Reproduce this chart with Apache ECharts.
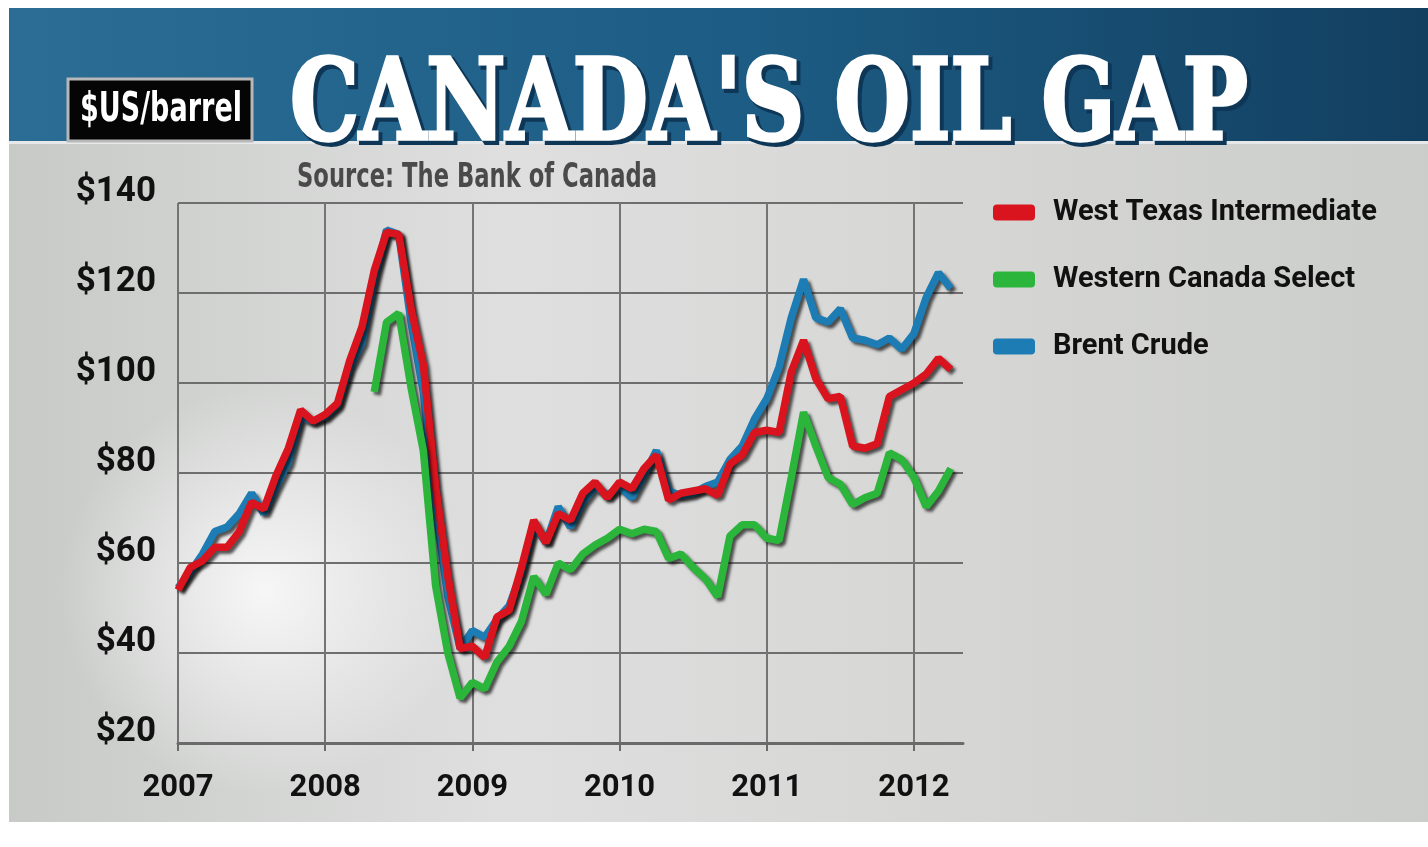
<!DOCTYPE html>
<html lang="en">
<head>
    <meta charset="UTF-8">
    <script src="https://cdn.jsdelivr.net/npm/echarts@6.0.0/dist/echarts.min.js"></script>
    <title>Canada's Oil Gap</title>
    <style>
        html, body { margin: 0; background: #fff; }
        #container { width: 1428px; height: 847px; }
    </style>
</head>
<body>
<div id="container"></div>

<script>
    // monthly prices, Jan 2007 .. Apr 2012 ($US/barrel)
    var wti = [
        54, 59, 60.5, 63.5, 63.5, 67, 73.5, 72, 79.5, 85.5, 94, 91.5,
        93, 95.5, 105, 112.5, 125, 133.5, 133, 116.5, 104, 77, 57, 41,
        41.5, 39, 48, 49.5, 59, 69.5, 64.5, 71, 69.5, 75.5, 78, 74.5,
        78, 76.5, 81, 84, 74, 75.5, 76, 76.5, 75, 82, 84, 89,
        89.5, 89, 102.5, 109.5, 101, 96.5, 97, 86, 85.5, 86.5, 97, 98.5,
        100, 102, 105.5, 103
    ];
    var wcs = [
        null, null, null, null, null, null, null, null, null, null, null, null,
        null, null, null, null, 98, 113.5, 115.5, 99, 85, 55, 40, 30,
        33.5, 32, 38, 41.5, 47, 57, 53, 60, 58.5, 62, 64, 65.5,
        67.5, 66.5, 67.5, 67, 61, 62, 59, 56.5, 52.5, 66, 68.5, 68.5,
        65.5, 65, 79, 93.5, 86, 79, 77.5, 73, 74.5, 75.5, 84.5, 83,
        79, 72.5, 76, 81
    ];
    var brent = [
        54.5, 58, 62, 67, 68, 71, 75.5, 71, 77, 82.5, 92.5, 91.5,
        92.5, 95, 103.5, 109, 123, 134, 133, 113.5, 98, 72, 52.5, 41,
        45, 43.5, 47.5, 50.5, 58, 68.5, 64.5, 72.5, 68, 73.5, 77, 75,
        77, 74.5, 79.5, 85, 76, 75, 75.5, 77, 78, 83, 86, 92,
        96.5, 103.5, 114.5, 123, 114.5, 113.5, 116.5, 110, 109.5, 108.5, 110, 107.5,
        111, 119, 124.5, 121
    ];
    var seriesNames = ['West Texas Intermediate', 'Western Canada Select', 'Brent Crude'];
    var yearLabels = ['2007', '2008', '2009', '2010', '2011', '2012'];

    // month categories; one spare month at the end so the axis runs a bit past Apr 2012
    var months = [];
    yearLabels.forEach(function (y) {
        for (var m = 1; m <= 12; m++) months.push(y + '-' + (m < 10 ? '0' + m : m));
    });
    months = months.slice(0, 65);

    var labelFont = 'Roboto, "Liberation Sans", sans-serif';
    var titleFont = 'bold 112px "DejaVu Serif"';
    var unitFont = 'bold 40px "DejaVu Sans"';
    var sourceFont = 'bold 34px "DejaVu Sans"';

    // squeeze the texts to the width they have in the picture
    var ctx = document.createElement('canvas').getContext('2d');
    function fitScale(font, text, width) {
        ctx.font = font;
        return width / ctx.measureText(text).width;
    }
    var titleScale = fitScale(titleFont, "CANADA'S OIL GAP", 958);
    var unitScale = fitScale(unitFont, '$US/barrel', 162);
    var sourceScale = fitScale(sourceFont, 'Source: The Bank of Canada', 360);

    var dom = document.getElementById('container');
    var myChart = echarts.init(dom);

    var isYear = function (i) { return i % 12 === 0; };

    function lineSeries(name, data, color) {
        return {
            name: name,
            type: 'line',
            data: data,
            symbol: 'none',
            connectNulls: false,
            lineStyle: {
                width: 7.5,
                color: color,
                shadowColor: 'rgba(0,0,0,0.65)',
                shadowBlur: 3,
                shadowOffsetX: 3,
                shadowOffsetY: 3
            },
            itemStyle: { color: color, shadowColor: 'rgba(0,0,0,0.6)', shadowBlur: 2, shadowOffsetX: 2, shadowOffsetY: 3 },
            emphasis: { disabled: true }
        };
    }

    var option = {
        animation: false,
        graphic: [
            // white frame + banner + grey board
            { type: 'rect', z: -20, shape: { x: 0, y: 0, width: 1428, height: 847 }, style: { fill: '#ffffff' } },
            {
                type: 'rect', z: -19, shape: { x: 9, y: 8, width: 1419, height: 134 },
                style: { fill: new echarts.graphic.LinearGradient(0, 0, 1, 0, [
                    { offset: 0, color: '#2b6d95' }, { offset: 0.5, color: '#1d5d85' }, { offset: 1, color: '#123f60' }
                ]) }
            },
            {
                type: 'rect', z: -19, shape: { x: 9, y: 142, width: 1419, height: 680 },
                style: { fill: new echarts.graphic.LinearGradient(0, 0, 1, 0, [
                    { offset: 0, color: '#c8cac8' }, { offset: 0.35, color: '#dedfde' },
                    { offset: 0.7, color: '#d5d6d4' }, { offset: 1, color: '#cbcdcb' }
                ]) }
            },
            {
                type: 'rect', z: -18, shape: { x: 9, y: 142, width: 1419, height: 680 },
                style: { fill: new echarts.graphic.RadialGradient(0.18, 0.66, 0.3, [
                    { offset: 0, color: 'rgba(255,255,255,0.8)' }, { offset: 1, color: 'rgba(255,255,255,0)' }
                ]) }
            },
            { type: 'rect', z: -18, shape: { x: 9, y: 141, width: 1419, height: 3 }, style: { fill: '#e6e8ea' } },
            // unit box
            {
                type: 'rect', z: 50, shape: { x: 68, y: 79, width: 184, height: 62 },
                style: { fill: '#050505', stroke: '#b8b8b8', lineWidth: 3 }
            },
            {
                type: 'text', z: 51, x: 80, y: 111, scaleX: unitScale, originX: 0,
                style: {
                    text: '$US/barrel', fill: '#ffffff', font: unitFont,
                    textAlign: 'left', textVerticalAlign: 'middle'
                }
            },
            // title: dark offset copy, then fattened white letters
            {
                type: 'text', z: 49, x: 293, y: 169, scaleX: titleScale, originX: 0,
                style: {
                    text: "CANADA'S OIL GAP", fill: '#0e3656', font: titleFont,
                    stroke: '#0e3656', lineWidth: 6,
                    textAlign: 'left', textVerticalAlign: 'bottom'
                }
            },
            {
                type: 'text', z: 50, x: 290, y: 166, scaleX: titleScale, originX: 0,
                style: {
                    text: "CANADA'S OIL GAP", fill: '#ffffff', font: titleFont,
                    stroke: '#ffffff', lineWidth: 3.5,
                    textAlign: 'left', textVerticalAlign: 'bottom'
                }
            },
            // source
            {
                type: 'text', z: 50, x: 297, y: 178, scaleX: sourceScale, originX: 0,
                style: {
                    text: 'Source: The Bank of Canada', fill: '#4a4a4a', font: sourceFont,
                    textAlign: 'left', textVerticalAlign: 'middle'
                }
            }
        ],
        legend: {
            orient: 'vertical',
            left: 988,
            top: 193,
            itemWidth: 42,
            itemHeight: 16,
            itemGap: 38,
            icon: 'roundRect',
            data: seriesNames,
            selectedMode: false,
            textStyle: { fontSize: 29, fontWeight: 'bold', color: '#111', fontFamily: labelFont, padding: [0, 0, 0, 13] }
        },
        grid: { left: 178, right: 465, top: 203, bottom: 104 },
        xAxis: {
            type: 'category',
            data: months,
            boundaryGap: false,
            axisLine: { lineStyle: { color: '#6a6a6a', width: 3 } },
            axisTick: { interval: isYear, length: 8, lineStyle: { color: '#6a6a6a', width: 2 } },
            splitLine: { show: true, interval: isYear, lineStyle: { color: '#747474', width: 2 } },
            axisLabel: {
                interval: isYear,
                formatter: function (v) { return v.slice(0, 4); },
                margin: 30,
                fontSize: 31, fontWeight: 'bold', color: '#111', fontFamily: labelFont
            }
        },
        yAxis: {
            type: 'value',
            min: 20,
            max: 140,
            interval: 20,
            axisLine: { show: false },
            axisTick: { show: false },
            splitLine: { lineStyle: { color: '#6e6e6e', width: 2 } },
            axisLabel: {
                formatter: '${value}',
                margin: 22,
                verticalAlign: 'bottom',
                lineHeight: 22,
                fontSize: 35, fontWeight: 'bold', color: '#111', fontFamily: labelFont
            }
        },
        series: [
            lineSeries(seriesNames[2], brent, '#1c7cb3'),
            lineSeries(seriesNames[0], wti, '#d9141e'),
            lineSeries(seriesNames[1], wcs, '#2bb53b')
        ]
    };

    myChart.setOption(option);
</script>
</body>
</html>
